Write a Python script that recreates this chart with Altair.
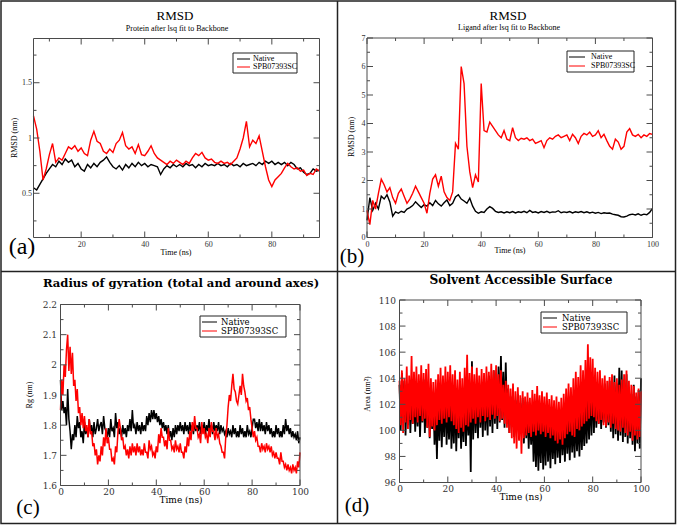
import altair as alt
import pandas as pd

W, H = 679, 527

# ---------------- data ----------------
SERIES = ["Native", "SPB07393SC"]

# (a) RMSD protein, t = 5..95 ns, step 1 ns
A_T0, A_DT = 5, 1
A_NATIVE = [0.55, 0.53, 0.58, 0.63, 0.68, 0.72, 0.76, 0.74, 0.79, 0.76,
            0.81, 0.78, 0.80, 0.74, 0.77, 0.72, 0.70, 0.76, 0.73, 0.77,
            0.74, 0.78, 0.80, 0.83, 0.78, 0.74, 0.72, 0.75, 0.71, 0.76,
            0.73, 0.77, 0.74, 0.78, 0.75, 0.77, 0.74, 0.76, 0.75, 0.74,
            0.67, 0.72, 0.75, 0.73, 0.76, 0.74, 0.76, 0.74, 0.77, 0.75,
            0.76, 0.73, 0.76, 0.74, 0.77, 0.75, 0.76, 0.75, 0.77, 0.75,
            0.76, 0.74, 0.77, 0.75, 0.76, 0.74, 0.77, 0.75, 0.76, 0.77,
            0.75, 0.78, 0.76, 0.79, 0.77, 0.79, 0.76, 0.78, 0.76, 0.78,
            0.75, 0.78, 0.76, 0.72, 0.73, 0.69, 0.67, 0.68, 0.72, 0.70, 0.71]
A_SPB = [1.20, 1.08, 0.88, 0.62, 0.72, 0.85, 0.95, 0.78, 0.82, 0.80,
         0.86, 0.92, 0.90, 0.93, 0.88, 0.91, 0.86, 0.84, 0.98, 1.06,
         0.97, 0.95, 0.88, 0.86, 0.90, 0.87, 0.95, 0.98, 1.05, 0.93,
         0.90, 0.92, 0.86, 0.94, 0.85, 0.84, 0.88, 0.93, 0.86, 0.82,
         0.80, 0.78, 0.76, 0.79, 0.77, 0.80, 0.78, 0.76, 0.79, 0.77,
         0.82, 0.86, 0.84, 0.87, 0.82, 0.80, 0.81, 0.78, 0.77, 0.79,
         0.77, 0.78, 0.76, 0.79, 0.82, 0.90, 1.00, 1.15, 0.92, 0.98,
         0.95, 1.02, 0.88, 0.74, 0.62, 0.56, 0.62, 0.65, 0.68, 0.73,
         0.77, 0.74, 0.72, 0.73, 0.70, 0.71, 0.66, 0.68, 0.67, 0.72, 0.70]

# (b) RMSD ligand, t = 0..100 ns, step 1 ns
B_T0, B_DT = 0, 1
B_NATIVE = [0.60, 1.40, 0.95, 1.20, 1.00, 1.45, 1.35, 1.50, 1.25, 0.75,
            0.90, 0.85, 0.92, 0.88, 1.00, 1.05, 1.12, 1.25, 1.15, 1.05,
            1.15, 1.10, 1.22, 1.12, 1.30, 1.18, 1.10, 1.22, 1.32, 1.12,
            1.20, 1.42, 1.50, 1.35, 1.28, 1.20, 1.38, 1.10, 0.92, 0.85,
            0.90, 0.88, 1.00, 1.08, 1.02, 0.92, 0.88, 0.90, 0.86, 0.90,
            0.87, 0.91, 0.86, 0.90, 0.88, 0.92, 0.87, 0.95, 0.88, 0.90,
            0.86, 0.91, 0.88, 0.92, 0.87, 0.90, 0.89, 0.94, 0.87, 0.90,
            0.88, 0.91, 0.86, 0.90, 0.88, 0.91, 0.87, 0.90, 0.86, 0.89,
            0.85, 0.88, 0.84, 0.87, 0.85, 0.86, 0.82, 0.80, 0.78, 0.73,
            0.72, 0.75, 0.80, 0.82, 0.79, 0.83, 0.78, 0.82, 0.80, 0.88, 1.02]
B_SPB = [0.95, 0.45, 1.30, 1.00, 1.55, 2.05, 1.85, 1.60, 1.75, 1.40,
         1.20, 1.55, 1.70, 1.45, 1.20, 1.35, 1.55, 1.80, 1.60, 1.40,
         1.20, 0.85, 1.55, 2.05, 2.20, 1.80, 2.15, 1.60, 1.40, 1.30,
         1.60, 3.30, 3.10, 6.00, 5.40, 3.20, 2.30, 1.75, 2.20, 1.95,
         5.40, 3.75, 3.70, 4.05, 3.90, 3.75, 3.60, 3.50, 3.75, 3.45,
         3.40, 3.85, 3.50, 3.40, 3.48, 3.45, 3.50, 3.40, 3.45, 3.30,
         3.35, 3.40, 3.15, 3.40, 3.50, 3.45, 3.55, 3.60, 3.50, 3.55,
         3.60, 3.40, 3.62, 3.50, 3.30, 3.55, 3.65, 3.60, 3.70, 3.55,
         3.60, 3.75, 3.50, 3.62, 3.40, 3.20, 3.10, 3.45, 3.35, 3.10,
         3.20, 3.70, 3.82, 3.60, 3.55, 3.62, 3.50, 3.60, 3.55, 3.65, 3.62]

# (c) Radius of gyration, t = 0..100 ns, step 0.5 ns
C_T0, C_DT = 0, 0.5
C_NATIVE = [1.95, 1.85, 1.88, 1.84, 1.86, 1.80, 1.92, 1.82, 1.78, 1.72,
            1.77, 1.75, 1.80, 1.76, 1.83, 1.79, 1.81, 1.76, 1.78, 1.74,
            1.81, 1.77, 1.79, 1.76, 1.82, 1.78, 1.80, 1.76, 1.81, 1.77,
            1.79, 1.82, 1.78, 1.80, 1.81, 1.77, 1.83, 1.79, 1.78, 1.76,
            1.79, 1.76, 1.82, 1.78, 1.79, 1.76, 1.84, 1.79, 1.81, 1.77,
            1.79, 1.76, 1.80, 1.77, 1.79, 1.76, 1.80, 1.78, 1.82, 1.78,
            1.85, 1.79, 1.80, 1.77, 1.81, 1.78, 1.80, 1.77, 1.81, 1.78,
            1.80, 1.78, 1.83, 1.80, 1.84, 1.81, 1.85, 1.82, 1.85, 1.82,
            1.84, 1.81, 1.83, 1.80, 1.82, 1.79, 1.81, 1.78, 1.80, 1.77,
            1.80, 1.76, 1.78, 1.75, 1.79, 1.76, 1.80, 1.77, 1.80, 1.78,
            1.81, 1.78, 1.80, 1.77, 1.81, 1.78, 1.80, 1.77, 1.81, 1.78,
            1.80, 1.77, 1.81, 1.78, 1.80, 1.78, 1.81, 1.77, 1.80, 1.78,
            1.81, 1.77, 1.80, 1.78, 1.82, 1.78, 1.80, 1.77, 1.81, 1.78,
            1.80, 1.78, 1.81, 1.77, 1.80, 1.78, 1.79, 1.77, 1.78, 1.76,
            1.79, 1.77, 1.78, 1.76, 1.80, 1.77, 1.79, 1.76, 1.78, 1.76,
            1.80, 1.77, 1.79, 1.76, 1.78, 1.76, 1.80, 1.77, 1.78, 1.76,
            1.79, 1.82, 1.82, 1.79, 1.81, 1.78, 1.82, 1.78, 1.81, 1.78,
            1.80, 1.77, 1.81, 1.78, 1.80, 1.77, 1.79, 1.76, 1.78, 1.76,
            1.80, 1.77, 1.79, 1.76, 1.78, 1.76, 1.80, 1.77, 1.82, 1.78,
            1.80, 1.77, 1.79, 1.76, 1.78, 1.76, 1.77, 1.75, 1.78, 1.74,
            1.76]
C_SPB = [1.85, 1.95, 1.90, 2.00, 1.96, 2.05, 2.10, 1.98, 2.06, 1.97,
         2.04, 1.93, 1.95, 1.88, 1.92, 1.84, 1.86, 1.80, 1.84, 1.79,
         1.83, 1.78, 1.80, 1.76, 1.82, 1.77, 1.78, 1.73, 1.74, 1.70,
         1.72, 1.67, 1.70, 1.68, 1.73, 1.70, 1.76, 1.73, 1.79, 1.74,
         1.76, 1.72, 1.72, 1.68, 1.69, 1.67, 1.73, 1.71, 1.78, 1.82,
         1.79, 1.75, 1.76, 1.72, 1.73, 1.70, 1.72, 1.69, 1.73, 1.70,
         1.74, 1.71, 1.73, 1.70, 1.74, 1.71, 1.73, 1.70, 1.72, 1.70,
         1.74, 1.71, 1.71, 1.69, 1.75, 1.72, 1.73, 1.70, 1.71, 1.69,
         1.73, 1.71, 1.77, 1.74, 1.79, 1.76, 1.76, 1.73, 1.75, 1.72,
         1.79, 1.75, 1.75, 1.72, 1.73, 1.71, 1.75, 1.72, 1.73, 1.71,
         1.74, 1.71, 1.71, 1.69, 1.73, 1.71, 1.76, 1.73, 1.78, 1.75,
         1.81, 1.78, 1.83, 1.79, 1.79, 1.76, 1.77, 1.74, 1.81, 1.77,
         1.79, 1.76, 1.77, 1.74, 1.79, 1.76, 1.81, 1.78, 1.78, 1.75,
         1.79, 1.76, 1.77, 1.74, 1.73, 1.71, 1.71, 1.69, 1.76, 1.80,
         1.86, 1.90, 1.88, 1.93, 1.97, 1.92, 1.91, 1.88, 1.87, 1.90,
         1.93, 1.90, 1.97, 1.93, 1.91, 1.88, 1.89, 1.85, 1.86, 1.82,
         1.79, 1.76, 1.78, 1.75, 1.76, 1.73, 1.73, 1.71, 1.74, 1.72,
         1.73, 1.71, 1.74, 1.72, 1.73, 1.71, 1.73, 1.70, 1.71, 1.69,
         1.71, 1.69, 1.69, 1.67, 1.71, 1.68, 1.68, 1.66, 1.67, 1.65,
         1.67, 1.65, 1.66, 1.64, 1.67, 1.65, 1.66, 1.64, 1.68, 1.66,
         1.71]

# (d) Solvent accessible surface, t = 0..100 ns, step 0.5 ns
D_T0, D_DT = 0, 0.5
D_NATIVE = [103.5, 100.0, 104.4, 100.8, 103.8, 99.6, 102.9, 100.4, 103.6, 99.8,
            102.8, 100.5, 103.2, 99.9, 102.5, 100.3, 103.4, 99.5, 102.6, 100.6,
            103.9, 99.8, 102.7, 100.2, 103.1, 99.4, 102.4, 100.1, 102.9, 98.9,
            101.8, 97.8, 102.5, 99.2, 103.0, 98.7, 102.2, 99.5, 103.3, 98.9,
            102.0, 99.3, 102.8, 98.6, 101.9, 99.0, 103.1, 98.4, 102.3, 99.4,
            102.7, 98.6, 101.8, 99.1, 103.0, 98.8, 102.4, 99.6, 103.6, 96.8,
            105.3, 99.3, 103.2, 99.8, 102.8, 99.4, 103.6, 100.2, 102.9, 99.5,
            104.0, 100.0, 103.1, 99.6, 104.2, 100.3, 103.5, 99.8, 104.6, 100.5,
            103.8, 100.1, 104.9, 100.6, 105.7, 100.8, 104.5, 100.2, 105.2, 100.9,
            103.2, 99.8, 102.6, 100.4, 103.0, 99.5, 102.3, 100.1, 102.8, 99.3,
            102.1, 99.8, 102.5, 99.0, 101.8, 99.4, 102.2, 98.6, 101.5, 98.9,
            101.8, 97.6, 100.9, 97.2, 101.4, 96.9, 100.6, 97.5, 101.2, 97.0,
            100.8, 97.3, 101.3, 97.6, 100.5, 97.1, 101.0, 97.8, 100.4, 97.4,
            101.1, 97.9, 100.6, 97.5, 101.0, 98.1, 100.7, 97.6, 101.2, 98.2,
            100.9, 97.7, 101.4, 98.3, 101.0, 97.9, 101.6, 98.4, 101.2, 98.0,
            101.8, 98.5, 101.5, 98.8, 102.2, 99.0, 102.6, 99.3, 103.2, 99.6,
            104.0, 99.8, 103.1, 100.2, 102.7, 100.5, 103.4, 100.1, 102.9, 100.6,
            103.6, 100.2, 103.1, 100.4, 103.8, 99.9, 103.3, 99.4, 104.2, 99.7,
            103.6, 99.2, 104.8, 99.6, 104.6, 99.1, 103.9, 99.5, 104.3, 99.0,
            103.2, 99.4, 102.8, 98.9, 103.5, 98.4, 102.6, 99.0, 103.1, 98.6,
            104.0]
D_SPB = [103.8, 100.4, 104.6, 99.8, 104.0, 100.6, 104.9, 100.1, 104.2, 100.8,
         105.7, 100.5, 104.5, 101.0, 104.9, 100.6, 104.3, 101.1, 105.0, 100.7,
         104.4, 100.9, 104.7, 100.2, 105.1, 99.5, 104.0, 100.3, 103.7, 100.0,
         103.9, 100.4, 104.3, 100.8, 104.8, 100.5, 104.2, 100.9, 104.9, 100.6,
         104.5, 101.0, 105.0, 100.7, 104.3, 100.4, 104.6, 100.1, 103.9, 99.8,
         104.5, 100.2, 104.0, 99.9, 104.8, 100.4, 105.8, 100.3, 104.4, 100.6,
         104.9, 100.9, 104.3, 100.5, 104.8, 101.0, 104.2, 100.6, 104.7, 101.1,
         104.4, 100.7, 104.9, 101.0, 104.5, 100.8, 105.1, 101.2, 104.6, 100.9,
         105.0, 101.1, 104.3, 100.7, 104.6, 100.9, 103.5, 100.5, 103.8, 100.2,
         103.5, 99.8, 103.2, 99.4, 103.6, 99.0, 103.0, 98.6, 103.3, 99.2,
         102.7, 98.2, 103.0, 99.4, 102.6, 99.6, 102.9, 99.8, 102.5, 99.5,
         103.1, 99.9, 102.8, 99.6, 103.4, 100.0, 102.7, 99.7, 103.0, 99.9,
         102.6, 99.5, 102.9, 99.8, 102.4, 99.4, 102.7, 99.6, 102.3, 99.2,
         102.6, 99.0, 102.2, 99.3, 102.5, 98.9, 102.8, 99.4, 103.2, 99.7,
         103.6, 99.9, 103.3, 99.6, 104.0, 99.5, 104.5, 100.1, 104.1, 100.0,
         105.0, 100.3, 104.6, 100.5, 105.4, 100.7, 106.6, 100.9, 105.6, 101.1,
         105.5, 101.0, 104.8, 100.7, 104.5, 100.5, 104.6, 100.8, 104.0, 100.4,
         104.2, 100.3, 103.8, 100.6, 104.1, 100.2, 104.3, 100.5, 103.7, 100.1,
         104.0, 100.0, 103.5, 99.9, 103.9, 100.2, 104.3, 99.8, 104.6, 99.6,
         103.8, 99.9, 103.5, 99.2, 103.4, 99.6, 102.9, 99.3, 103.2, 99.5,
         103.0]

# tick values
A_X_MAJOR = [20, 40, 60, 80]
A_X_MINOR = [10, 30, 50, 70, 90]
A_Y_MAJOR = [0.5, 1, 1.5]
A_Y_MINOR = [0.25, 0.75, 1.25, 1.75]
B_X_MAJOR = [0, 20, 40, 60, 80, 100]
B_X_MINOR = [10, 30, 50, 70, 90]
B_Y_MAJOR = [0, 1, 2, 3, 4, 5, 6, 7]
B_Y_MINOR = [0.5, 1.5, 2.5, 3.5, 4.5, 5.5, 6.5]
C_X_MAJOR = [0, 20, 40, 60, 80, 100]
C_X_MINOR = [10, 30, 50, 70, 90]
C_Y_MAJOR = [1.6, 1.7, 1.8, 1.9, 2.0, 2.1, 2.2]
C_Y_MINOR = [1.65, 1.75, 1.85, 1.95, 2.05, 2.15]
D_X_MAJOR = [0, 20, 40, 60, 80, 100]
D_X_MINOR = [10, 30, 50, 70, 90]
D_Y_MAJOR = [96, 98, 100, 102, 104, 106, 108, 110]
D_Y_MINOR = [97, 99, 101, 103, 105, 107, 109]

# ---------------- helpers ----------------
FRAME = "#4a4a4a"
LABEL = "#333333"
ONE = pd.DataFrame({"k": [0]})
TIMES = "Liberation Serif"
WIDE = "DejaVu Serif"


def series_df(vals, t0, dt):
    return pd.DataFrame({"t": [t0 + i * dt for i in range(len(vals))], "v": vals})


def text(s, x, y, size, font, weight="normal", angle=0, align="center", color="black"):
    return alt.Chart(pd.DataFrame({"s": [s]})).mark_text(
        font=font, fontSize=size, fontWeight=weight, angle=angle, align=align,
        baseline="middle", color=color,
    ).encode(text="s:N", x=alt.value(x), y=alt.value(y))


def panel(p):
    xs = alt.Scale(domain=p["xdom"], range=[p["x0"], p["x1"]], nice=False, zero=False)
    ys = alt.Scale(domain=p["ydom"], range=[p["yb"], p["yt"]], nice=False, zero=False)
    common = dict(ticks=False, tickSize=0, domain=False, grid=False, title=None,
                  labelFont=p["font"], labelFontSize=p["lsize"], labelColor=LABEL,
                  labelFlush=False, labelOverlap=False, labelBound=False)
    xaxis = alt.Axis(orient="bottom", offset=p["yb"] - H, values=p["xmaj"], format="d",
                     labelPadding=p["xpad"], **common)
    yaxis = alt.Axis(orient="left", offset=-p["x0"], values=p["ymaj"], format="~g",
                     labelPadding=p["ypad"], **common)

    def X(field="t"):
        return alt.X(f"{field}:Q", scale=xs, axis=xaxis)

    def Y(field="v"):
        return alt.Y(f"{field}:Q", scale=ys, axis=yaxis)

    native = alt.Chart(series_df(p["native"], p["t0"], p["dt"])).mark_line(
        color="black", strokeWidth=p["sw"]).encode(x=X(), y=Y())
    spb = alt.Chart(series_df(p["spb"], p["t0"], p["dt"])).mark_line(
        color="red", strokeWidth=p["sw"]).encode(x=X(), y=Y())

    ticks = []
    for vals, ln in ((p["xmaj"], 6), (p["xmin"], 3)):
        d = pd.DataFrame({"t": vals})
        for y0, y1 in ((p["yb"], p["yb"] - ln), (p["yt"], p["yt"] + ln)):
            ticks.append(alt.Chart(d).mark_rule(color=FRAME, strokeWidth=1).encode(
                x=X(), y=alt.value(y0), y2=alt.value(y1)))
    for vals, ln in ((p["ymaj"], 6), (p["ymin"], 3)):
        d = pd.DataFrame({"v": vals})
        for x0, x1 in ((p["x0"], p["x0"] + ln), (p["x1"], p["x1"] - ln)):
            ticks.append(alt.Chart(d).mark_rule(color=FRAME, strokeWidth=1).encode(
                y=Y(), x=alt.value(x0), x2=alt.value(x1)))

    frame = alt.Chart(ONE).mark_rect(fillOpacity=0, stroke=FRAME, strokeWidth=1).encode(
        x=alt.value(p["x0"]), x2=alt.value(p["x1"]), y=alt.value(p["yt"]), y2=alt.value(p["yb"]))

    lg = p["legend"]
    box = alt.Chart(ONE).mark_rect(fill="white", stroke="#222222", strokeWidth=1).encode(
        x=alt.value(lg["x0"]), x2=alt.value(lg["x1"]), y=alt.value(lg["y0"]), y2=alt.value(lg["y1"]))
    leg = [box]
    for name, col, yy in ((SERIES[0], "black", lg["r1"]), (SERIES[1], "red", lg["r2"])):
        leg.append(alt.Chart(ONE).mark_rule(color=col, strokeWidth=1).encode(
            x=alt.value(lg["s0"]), x2=alt.value(lg["s1"]), y=alt.value(yy)))
        leg.append(text(name, lg["tx"], yy, p["legsize"], p["font"], align="left"))

    return alt.layer(native, spb, *ticks, frame, *leg)


PANELS = [
    dict(native=A_NATIVE, spb=A_SPB, t0=A_T0, dt=A_DT, xdom=[5, 95], ydom=[0.1, 1.9],
         x0=33.5, x1=319.5, yt=38.5, yb=237.5, xmaj=A_X_MAJOR, xmin=A_X_MINOR,
         ymaj=A_Y_MAJOR, ymin=A_Y_MINOR, font=TIMES, lsize=8, legsize=8, xpad=3, ypad=2, sw=1.4,
         legend=dict(x0=233, x1=297, y0=53, y1=73, r1=59, r2=67, s0=237, s1=250, tx=253)),
    dict(native=B_NATIVE, spb=B_SPB, t0=B_T0, dt=B_DT, xdom=[0, 100], ydom=[0, 7],
         x0=367, x1=652.5, yt=38, yb=237.5, xmaj=B_X_MAJOR, xmin=B_X_MINOR,
         ymaj=B_Y_MAJOR, ymin=B_Y_MINOR, font=TIMES, lsize=8, legsize=8, xpad=3, ypad=2, sw=1.4,
         legend=dict(x0=567, x1=634, y0=51, y1=72, r1=57, r2=66, s0=569, s1=585, tx=591)),
    dict(native=C_NATIVE, spb=C_SPB, t0=C_T0, dt=C_DT, xdom=[0, 100], ydom=[1.6, 2.2],
         x0=60.5, x1=300, yt=304.5, yb=485.5, xmaj=C_X_MAJOR, xmin=C_X_MINOR,
         ymaj=C_Y_MAJOR, ymin=C_Y_MINOR, font=WIDE, lsize=9, legsize=8.5, xpad=2, ypad=4, sw=1.5,
         legend=dict(x0=200, x1=286, y0=316, y1=337, r1=322, r2=331, s0=202, s1=217, tx=221)),
    dict(native=D_NATIVE, spb=D_SPB, t0=D_T0, dt=D_DT, xdom=[0, 100], ydom=[96, 110],
         x0=399.5, x1=641, yt=300, yb=482.5, xmaj=D_X_MAJOR, xmin=D_X_MINOR,
         ymaj=D_Y_MAJOR, ymin=D_Y_MINOR, font=WIDE, lsize=9, legsize=8.5, xpad=2, ypad=4, sw=1.8,
         legend=dict(x0=541, x1=627, y0=312, y1=333, r1=318, r2=327, s0=543, s1=557, tx=562)),
]

texts = [
    text("RMSD", 175, 16, 13, TIMES),
    text("Protein after lsq fit to Backbone", 177, 29, 8, TIMES),
    text("Time (ns)", 176, 253, 8, TIMES),
    text("RMSD (nm)", 15, 138, 8, TIMES, angle=270),
    text("(a)", 22, 247, 24, TIMES),
    text("RMSD", 508, 16, 13, TIMES),
    text("Ligand after lsq fit to Backbone", 509, 28, 8, TIMES),
    text("Time (ns)", 510, 251, 8, TIMES),
    text("RMSD (nm)", 352, 137, 8, TIMES, angle=270),
    text("(b)", 352, 257, 21, TIMES),
    text("Radius of gyration (total and around axes)", 181, 284, 11.6, WIDE, weight="bold"),
    text("Time (ns)", 181, 500, 9, WIDE),
    text("Rg (nm)", 30, 395, 8, TIMES, angle=270),
    text("(c)", 28, 508, 21, TIMES),
    text("Solvent Accessible Surface", 521, 280, 12.2, WIDE, weight="bold"),
    text("Time (ns)", 521, 497, 9, WIDE),
    text("Area (nm²)", 368, 394, 8, TIMES, angle=270),
    text("(d)", 357, 506, 21, TIMES),
]

borders = [
    alt.Chart(ONE).mark_rect(fillOpacity=0, stroke="#222222", strokeWidth=1.5).encode(
        x=alt.value(1), x2=alt.value(675.5), y=alt.value(1), y2=alt.value(523.5)),
    alt.Chart(ONE).mark_rule(color="#222222", strokeWidth=1.5).encode(
        x=alt.value(337.5), y=alt.value(1), y2=alt.value(523.5)),
    alt.Chart(ONE).mark_rule(color="#222222", strokeWidth=1.5).encode(
        x=alt.value(1), x2=alt.value(675.5), y=alt.value(271.5)),
]

chart = alt.layer(*[panel(p) for p in PANELS], *borders, *texts).resolve_scale(
    x="independent", y="independent").resolve_axis(
    x="independent", y="independent").properties(
    width=W, height=H, autosize=alt.AutoSizeParams(type="none"), padding=0,
    background="white").configure_view(stroke=None)

chart.save("out.html", embed_options={"renderer": "svg", "actions": False})
